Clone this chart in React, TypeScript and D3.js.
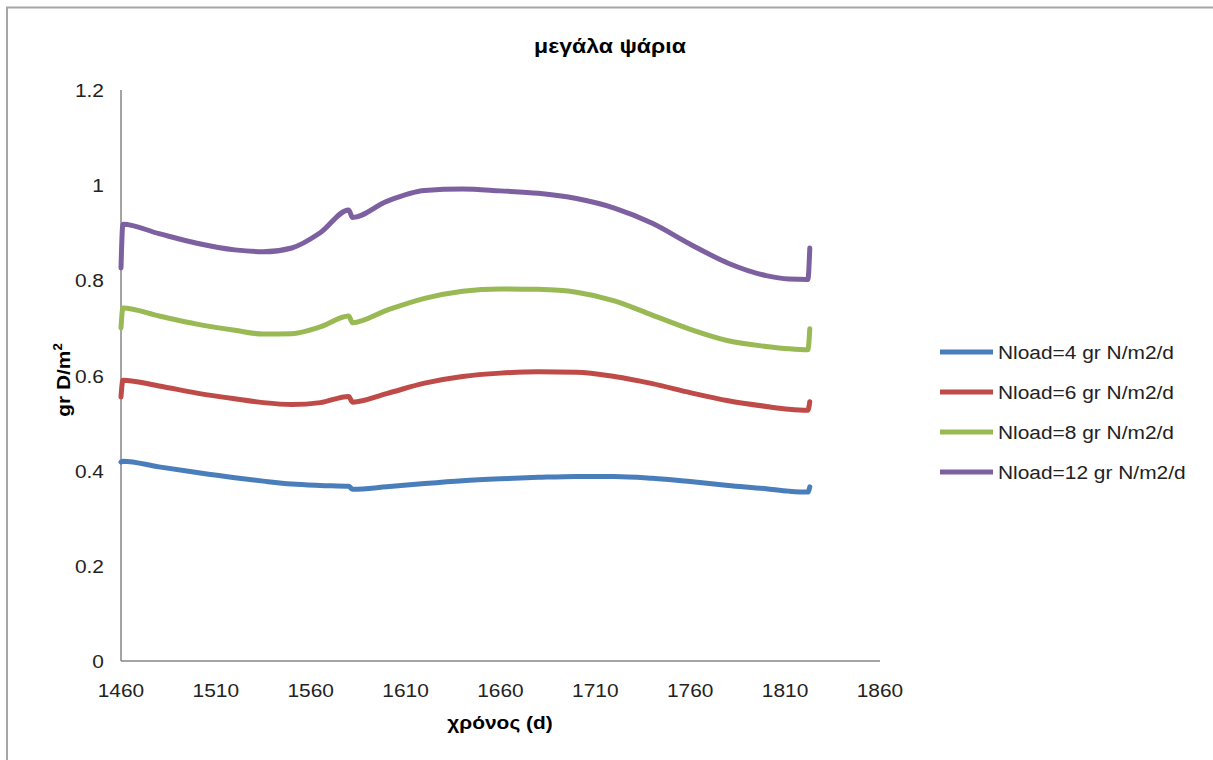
import React, { useEffect } from "react";
import * as d3 from "d3";

const days = [1460, 1461, 1480, 1500, 1520, 1535, 1550, 1565, 1580, 1582, 1600, 1620, 1640, 1660, 1680, 1700, 1720, 1740, 1760, 1780, 1800, 1812, 1822, 1823];

const seriesNames = ["Nload=4 gr N/m2/d", "Nload=6 gr N/m2/d", "Nload=8 gr N/m2/d", "Nload=12 gr N/m2/d"];
const seriesColors = ["#4a7ebb", "#be4b48", "#98b954", "#7d60a0"];

const nload4 = [0.418, 0.42, 0.408, 0.396, 0.385, 0.378, 0.372, 0.369, 0.367, 0.361, 0.366, 0.373, 0.379, 0.383, 0.386, 0.388, 0.388, 0.384, 0.377, 0.369, 0.362, 0.357, 0.355, 0.366];
const nload6 = [0.555, 0.59, 0.578, 0.563, 0.551, 0.543, 0.539, 0.543, 0.556, 0.544, 0.562, 0.584, 0.598, 0.605, 0.608, 0.607, 0.598, 0.583, 0.564, 0.547, 0.535, 0.529, 0.527, 0.545];
const nload8 = [0.70, 0.742, 0.725, 0.708, 0.695, 0.687, 0.688, 0.702, 0.725, 0.711, 0.737, 0.762, 0.777, 0.782, 0.781, 0.775, 0.757, 0.727, 0.697, 0.673, 0.661, 0.656, 0.654, 0.698];
const nload12 = [0.826, 0.918, 0.898, 0.878, 0.864, 0.86, 0.868, 0.9, 0.948, 0.932, 0.966, 0.989, 0.992, 0.988, 0.983, 0.972, 0.952, 0.92, 0.876, 0.836, 0.81, 0.803, 0.802, 0.868];

const xTicks = [1460, 1510, 1560, 1610, 1660, 1710, 1760, 1810, 1860];
const yTicks = [0, 0.2, 0.4, 0.6, 0.8, 1, 1.2];

export default function App() {
  useEffect(() => {
    document.body.style.margin = "0";
    document.body.style.overflow = "hidden";
  }, []);

  const x = d3.scaleLinear().domain([1460, 1860]).range([121, 880]);
  const y = d3.scaleLinear().domain([0, 1.2]).range([661, 90]);
  const allSeries = [nload4, nload6, nload8, nload12];
  const line = d3
    .line<number>()
    .x((_, i) => x(days[i]))
    .y((d) => y(d))
    .curve(d3.curveMonotoneX);

  const font = "Arial, 'Liberation Sans', sans-serif";
  const sx = 1.1;

  return (
    <svg width={1213} height={760} style={{ position: "absolute", left: 0, top: 0, background: "#fff" }} fontFamily={font}>
      <rect x={7} y={7.5} width={1220} height={780} fill="#fff" stroke="#a6a6a6" strokeWidth={2} />
      <text transform={`translate(610,53) scale(${sx},1)`} textAnchor="middle" fontSize={21} fontWeight="bold" fill="#000">μεγάλα ψάρια</text>

      <line x1={121} x2={121} y1={90} y2={661} stroke="#868686" strokeWidth={1.5} />
      <line x1={121} x2={880} y1={661} y2={661} stroke="#868686" strokeWidth={1.5} />

      {yTicks.map((t) => (
        <text key={t} transform={`translate(104,${y(t) + 7}) scale(${sx},1)`} textAnchor="end" fontSize={19} fill="#222">{d3.format("")(t)}</text>
      ))}
      {xTicks.map((t) => (
        <text key={t} transform={`translate(${x(t)},697) scale(${sx},1)`} textAnchor="middle" fontSize={19} fill="#222">{t}</text>
      ))}

      <text transform={`translate(500,729) scale(${sx},1)`} textAnchor="middle" fontSize={19} fontWeight="bold" fill="#000">χρόνος (d)</text>
      <text transform={`translate(70,380) rotate(-90) scale(${sx},1)`} textAnchor="middle" fontSize={19} fontWeight="bold" fill="#000">
        gr D/m<tspan fontSize={12} dy={-8}>2</tspan>
      </text>

      {allSeries.map((s, i) => (
        <path key={i} d={line(s) || ""} fill="none" stroke={seriesColors[i]} strokeWidth={5} strokeLinejoin="round" strokeLinecap="round" />
      ))}

      {seriesNames.map((n, i) => (
        <g key={n} transform={`translate(0,${352 + i * 40})`}>
          <line x1={940} x2={993} y1={0} y2={0} stroke={seriesColors[i]} strokeWidth={5} />
          <text transform={`translate(998,7) scale(${sx},1)`} fontSize={19} fill="#222">{n}</text>
        </g>
      ))}
    </svg>
  );
}
